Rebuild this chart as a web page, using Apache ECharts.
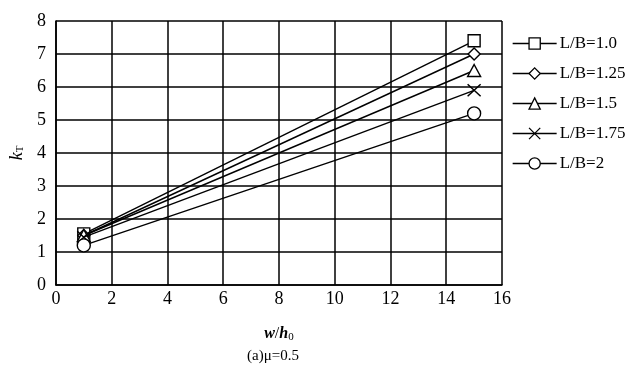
<!DOCTYPE html>
<html><head><meta charset="utf-8">
<script src="https://cdn.jsdelivr.net/npm/echarts@6/dist/echarts.min.js"></script>
<style>html,body{margin:0;padding:0;background:#fff}#c{width:628px;height:371px}</style>
</head><body><div id="c"></div>
<script>
const xValues = [1, 15];
const seriesNames = ['L/B=1.0', 'L/B=1.25', 'L/B=1.5', 'L/B=1.75', 'L/B=2'];
const s10 = [1.55, 7.4];
const s125 = [1.5, 7.0];
const s15 = [1.5, 6.5];
const s175 = [1.45, 5.9];
const s20 = [1.2, 5.2];
const xTicks = [0, 2, 4, 6, 8, 10, 12, 14, 16];
const yTicks = [0, 1, 2, 3, 4, 5, 6, 7, 8];

const allData = [s10, s125, s15, s175, s20];
const symbols = ['rect', 'diamond', 'triangle', 'path://M0,0L10,10M10,0L0,10', 'circle'];
const sizes = [[12, 12], [12, 12], [13, 12], [13, 12], [13, 13]];
const font = 'Liberation Serif, Times New Roman, serif';

const chart = echarts.init(document.getElementById('c'));
chart.setOption({
  animation: false,
  backgroundColor: '#fff',
  grid: { left: 55, right: 126, top: 21, bottom: 86 },
  xAxis: {
    type: 'value', min: 0, max: 16, interval: 2,
    name: '{i|w}/{i|h}{s|0}', nameLocation: 'middle', nameGap: 40,
    nameTextStyle: { fontFamily: font, fontSize: 16, color: '#000',
      rich: { i: { fontStyle: 'italic', fontWeight: 'bold', fontFamily: font, fontSize: 16 }, s: { fontFamily: font, fontSize: 11, padding: [7, 0, 0, 0] } } },
    axisLine: { lineStyle: { color: '#000', width: 1.6 } },
    axisTick: { show: false },
    splitLine: { show: true, lineStyle: { color: '#000', width: 1.5 } },
    axisLabel: { color: '#000', fontFamily: font, fontSize: 18, margin: 5,
      formatter: v => xTicks.includes(v) ? String(v) : '' }
  },
  yAxis: {
    type: 'value', min: 0, max: 8, interval: 1,
    name: '{i|k}{s|T}', nameLocation: 'middle', nameGap: 24, nameRotate: 90,
    nameTextStyle: { fontFamily: font, fontSize: 18, color: '#000',
      rich: { i: { fontStyle: 'italic', fontFamily: font, fontSize: 18 }, s: { fontFamily: font, fontSize: 11, padding: [7, 0, 0, 0] } } },
    axisLine: { show: true, lineStyle: { color: '#000', width: 1.6 } },
    axisTick: { show: false },
    splitLine: { show: true, lineStyle: { color: '#000', width: 1.5 } },
    axisLabel: { color: '#000', fontFamily: font, fontSize: 18, margin: 10,
      formatter: v => yTicks.includes(v) ? String(v) : '' }
  },
  legend: {
    orient: 'vertical', left: 507, top: 30, itemGap: 13, itemWidth: 44, itemHeight: 14,
    textStyle: { color: '#000', fontFamily: font, fontSize: 17, padding: [0, 0, 0, -2] },
    lineStyle: { width: 1.3 },
    itemStyle: { borderWidth: 1.3 },
    data: seriesNames
  },
  title: {
    text: '(a)μ=0.5', left: 242, top: 344,
    textStyle: { color: '#000', fontFamily: font, fontSize: 15, fontWeight: 'normal' }
  },
  series: allData.map((d, i) => ({
    name: seriesNames[i], type: 'line',
    data: d.map((v, j) => [xValues[j], v]),
    symbol: symbols[i], symbolSize: sizes[i], showAllSymbol: true,
    lineStyle: { color: '#000', width: 1.4 },
    itemStyle: { color: '#fff', borderColor: '#000', borderWidth: 1.4 },
    z: 3 + i
  }))
});
</script></body></html>
